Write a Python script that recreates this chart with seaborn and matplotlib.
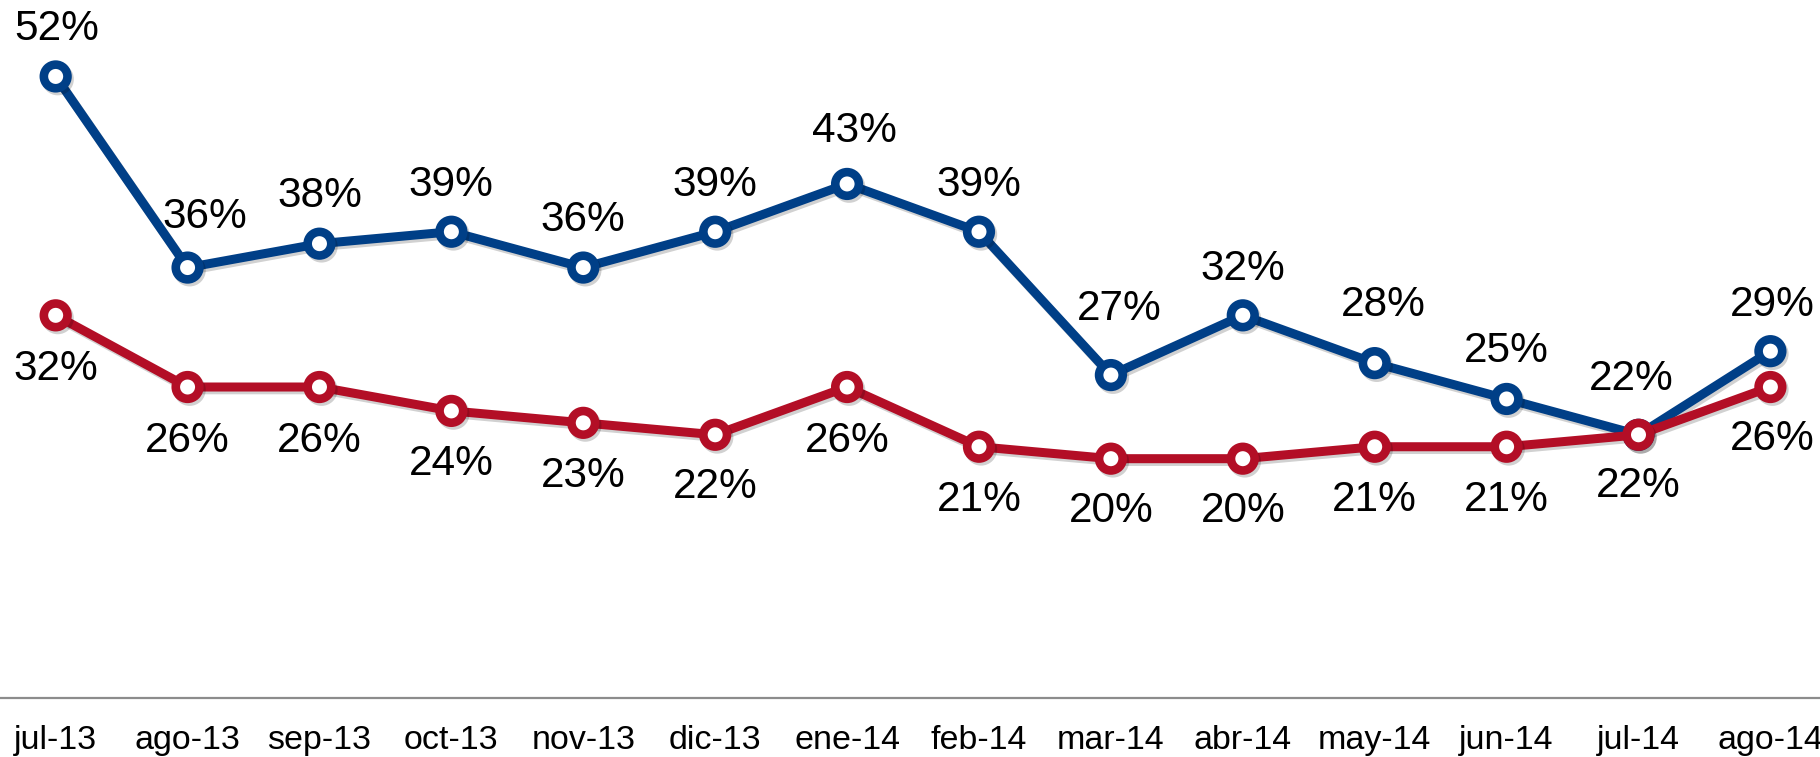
import matplotlib
matplotlib.use("Agg")
import matplotlib.pyplot as plt
import matplotlib.patheffects as pe
import seaborn as sns
import pandas as pd

months = ["jul-13", "ago-13", "sep-13", "oct-13", "nov-13", "dic-13", "ene-14",
          "feb-14", "mar-14", "abr-14", "may-14", "jun-14", "jul-14", "ago-14"]
blue_values = [52, 36, 38, 39, 36, 39, 43, 39, 27, 32, 28, 25, 22, 29]
red_values = [32, 26, 26, 24, 23, 22, 26, 21, 20, 20, 21, 21, 22, 26]

BLUE = "#003F87"
RED = "#B30E26"

sns.set_theme(style="white")
plt.rcParams["font.family"] = ["Liberation Sans", "DejaVu Sans"]

fig = plt.figure(figsize=(18.2, 7.57), dpi=100)
ax = fig.add_axes([0, 0.0785, 1, 0.9215])

df = pd.DataFrame({"x": list(range(len(months))), "blue": blue_values, "red": red_values})

shadow = [pe.SimpleLineShadow(offset=(1.5, -2), alpha=0.18, shadow_color="black"), pe.Normal()]

for col, color in [("blue", BLUE), ("red", RED)]:
    sns.lineplot(data=df, x="x", y=col, ax=ax, color=color, linewidth=6.5,
                 marker="o", markersize=17, markerfacecolor="white",
                 markeredgecolor=color, markeredgewidth=6.2,
                 path_effects=shadow, zorder=3)

px = 72 / 100.0  # pixel -> points
# label offsets (pixels): positive is above
blue_dy = [47, 51, 48, 47, 48, 47, 53, 47, 66, 46, 58, 48, 56, 46]
blue_dx = [1, 17, 0, 0, 0, 0, 7, 0, 8, 0, 9, 0, -7, 2]
red_dy = [-54, -54, -54, -53, -53, -52, -54, -53, -52, -52, -53, -53, -51, -52]
red_dx = [0, 0, 0, 0, 0, 0, 0, 0, 0, 0, 0, 0, 0, 2]

for i in range(len(months)):
    ax.annotate(f"{blue_values[i]}%", (i, blue_values[i]),
                xytext=(blue_dx[i] * px, blue_dy[i] * px), textcoords="offset points",
                ha="center", va="center", fontsize=30.5, color="black", zorder=5)
    ax.annotate(f"{red_values[i]}%", (i, red_values[i]),
                xytext=(red_dx[i] * px, red_dy[i] * px), textcoords="offset points",
                ha="center", va="center", fontsize=30.5, color="black", zorder=5)

ax.set_xlim(-0.422, 13.376)
ax.set_ylim(0, 58.4)
ax.set_xticks(range(len(months)))
ax.set_xticklabels(months, fontsize=24.5, color="black")
ax.set_yticks([])
ax.set_xlabel("")
ax.set_ylabel("")
ax.tick_params(axis="x", length=0, pad=20)
for s in ["top", "left", "right"]:
    ax.spines[s].set_visible(False)
ax.spines["bottom"].set_color("#8C8C8C")
ax.spines["bottom"].set_linewidth(1.6)
ax.patch.set_alpha(0)
ax.grid(False)

fig.savefig("out.png", dpi=100)
